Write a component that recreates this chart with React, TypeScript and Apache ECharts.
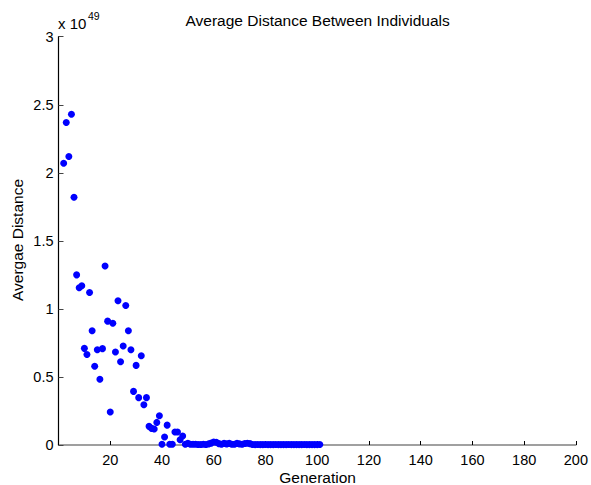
import React, { useEffect, useRef } from "react";
import * as echarts from "echarts";

const firstGeneration = 2;
const avgDistance: number[] = [
  2.07, 2.37, 2.12, 2.43, 1.82, 1.25, 1.155, 1.17, 0.71, 0.665,
  1.12, 0.84, 0.578, 0.7, 0.483, 0.708, 1.315, 0.91, 0.243, 0.894,
  0.683, 1.06, 0.612, 0.727, 1.025, 0.84, 0.7, 0.394, 0.585, 0.348,
  0.656, 0.296, 0.348, 0.137, 0.122, 0.117, 0.166, 0.215, 0.005, 0.059,
  0.146, 0.005, 0.005, 0.095, 0.095, 0.039, 0.066, 0.005, 0.012, 0.006,
  0.005, 0.005, 0.004, 0.004, 0.005, 0.004, 0.008, 0.014, 0.022, 0.02,
  0.01, 0.006, 0.012, 0.008, 0.012, 0.006, 0.005, 0.012, 0.008, 0.006,
  0.011, 0.013, 0.01, 0.004, 0.003, 0.004, 0.003, 0.003, 0.004, 0.003,
  0.003, 0.003, 0.004, 0.003, 0.003, 0.003, 0.003, 0.004, 0.003, 0.003,
  0.003, 0.003, 0.003, 0.004, 0.003, 0.003, 0.003, 0.003, 0.003, 0.004,
];
const xTicks = [0, 20, 40, 60, 80, 100, 120, 140, 160, 180, 200];
const yTicks = [0, 0.5, 1, 1.5, 2, 2.5, 3];

const FONT = "'Liberation Sans', Arial, Helvetica, sans-serif";

export default function App() {
  const ref = useRef<HTMLDivElement>(null);
  useEffect(() => {
    if (!ref.current) return;
    const chart = echarts.init(ref.current, null, { renderer: "svg" });
    const data = avgDistance.map((v, i) => [firstGeneration + i, v]);
    const gridLeft = 58.5;
    const gridRight = 14.3;
    const gridTop = 36.7;
    const gridBottom = 40;
    const cx = (gridLeft + (591 - gridRight)) / 2;
    chart.setOption({
      animation: false,
      backgroundColor: "#ffffff",
      grid: { left: gridLeft, right: gridRight, top: gridTop, bottom: gridBottom, containLabel: false },
      xAxis: {
        type: "value",
        min: xTicks[0],
        max: xTicks[xTicks.length - 1],
        interval: 20,
        axisLine: { show: true, onZero: false, lineStyle: { color: "#808080", width: 1.5 } },
        axisTick: { show: true, inside: true, length: 4, lineStyle: { color: "#000" } },
        axisLabel: {
          color: "#000",
          fontSize: 14.5,
          fontFamily: FONT,
          margin: 7,
          formatter: (v: number) => (v === 0 ? "" : String(v)),
        },
        splitLine: { show: false },
      },
      yAxis: {
        type: "value",
        min: yTicks[0],
        max: yTicks[yTicks.length - 1],
        interval: 0.5,
        axisLine: { show: true, lineStyle: { color: "#000", width: 1.2 } },
        axisTick: { show: true, inside: true, length: 5, lineStyle: { color: "#444" } },
        axisLabel: {
          color: "#000",
          fontSize: 14.5,
          fontFamily: FONT,
          margin: 5,
          formatter: (v: number) => String(v),
        },
        splitLine: { show: false },
      },
      series: [
        {
          type: "scatter",
          data,
          symbol: "circle",
          symbolSize: 7,
          itemStyle: { color: "#0000ff", opacity: 1 },
        },
      ],
      graphic: [
        {
          type: "text",
          x: cx,
          y: 12,
          style: {
            text: "Average Distance Between Individuals",
            fill: "#000",
            font: `15.5px ${FONT}`,
            textAlign: "center",
            textVerticalAlign: "top",
          },
        },
        {
          type: "text",
          x: cx,
          y: 477,
          style: {
            text: "Generation",
            fill: "#000",
            font: `15.5px ${FONT}`,
            textAlign: "center",
            textVerticalAlign: "middle",
          },
        },
        {
          type: "text",
          x: 17,
          y: 240,
          rotation: Math.PI / 2,
          style: {
            text: "Avergae Distance",
            fill: "#000",
            font: `15.5px ${FONT}`,
            textAlign: "center",
            textVerticalAlign: "middle",
          },
        },
        {
          type: "text",
          x: 58,
          y: 23,
          style: {
            text: "x 10",
            fill: "#000",
            font: `15px ${FONT}`,
            textAlign: "left",
            textVerticalAlign: "middle",
          },
        },
        {
          type: "text",
          x: 88,
          y: 16,
          style: {
            text: "49",
            fill: "#000",
            font: `10.5px ${FONT}`,
            textAlign: "left",
            textVerticalAlign: "middle",
          },
        },
      ],
    });
    return () => chart.dispose();
  }, []);
  return <div ref={ref} style={{ width: 591, height: 485, position: "absolute", left: 0, top: 0 }} />;
}
